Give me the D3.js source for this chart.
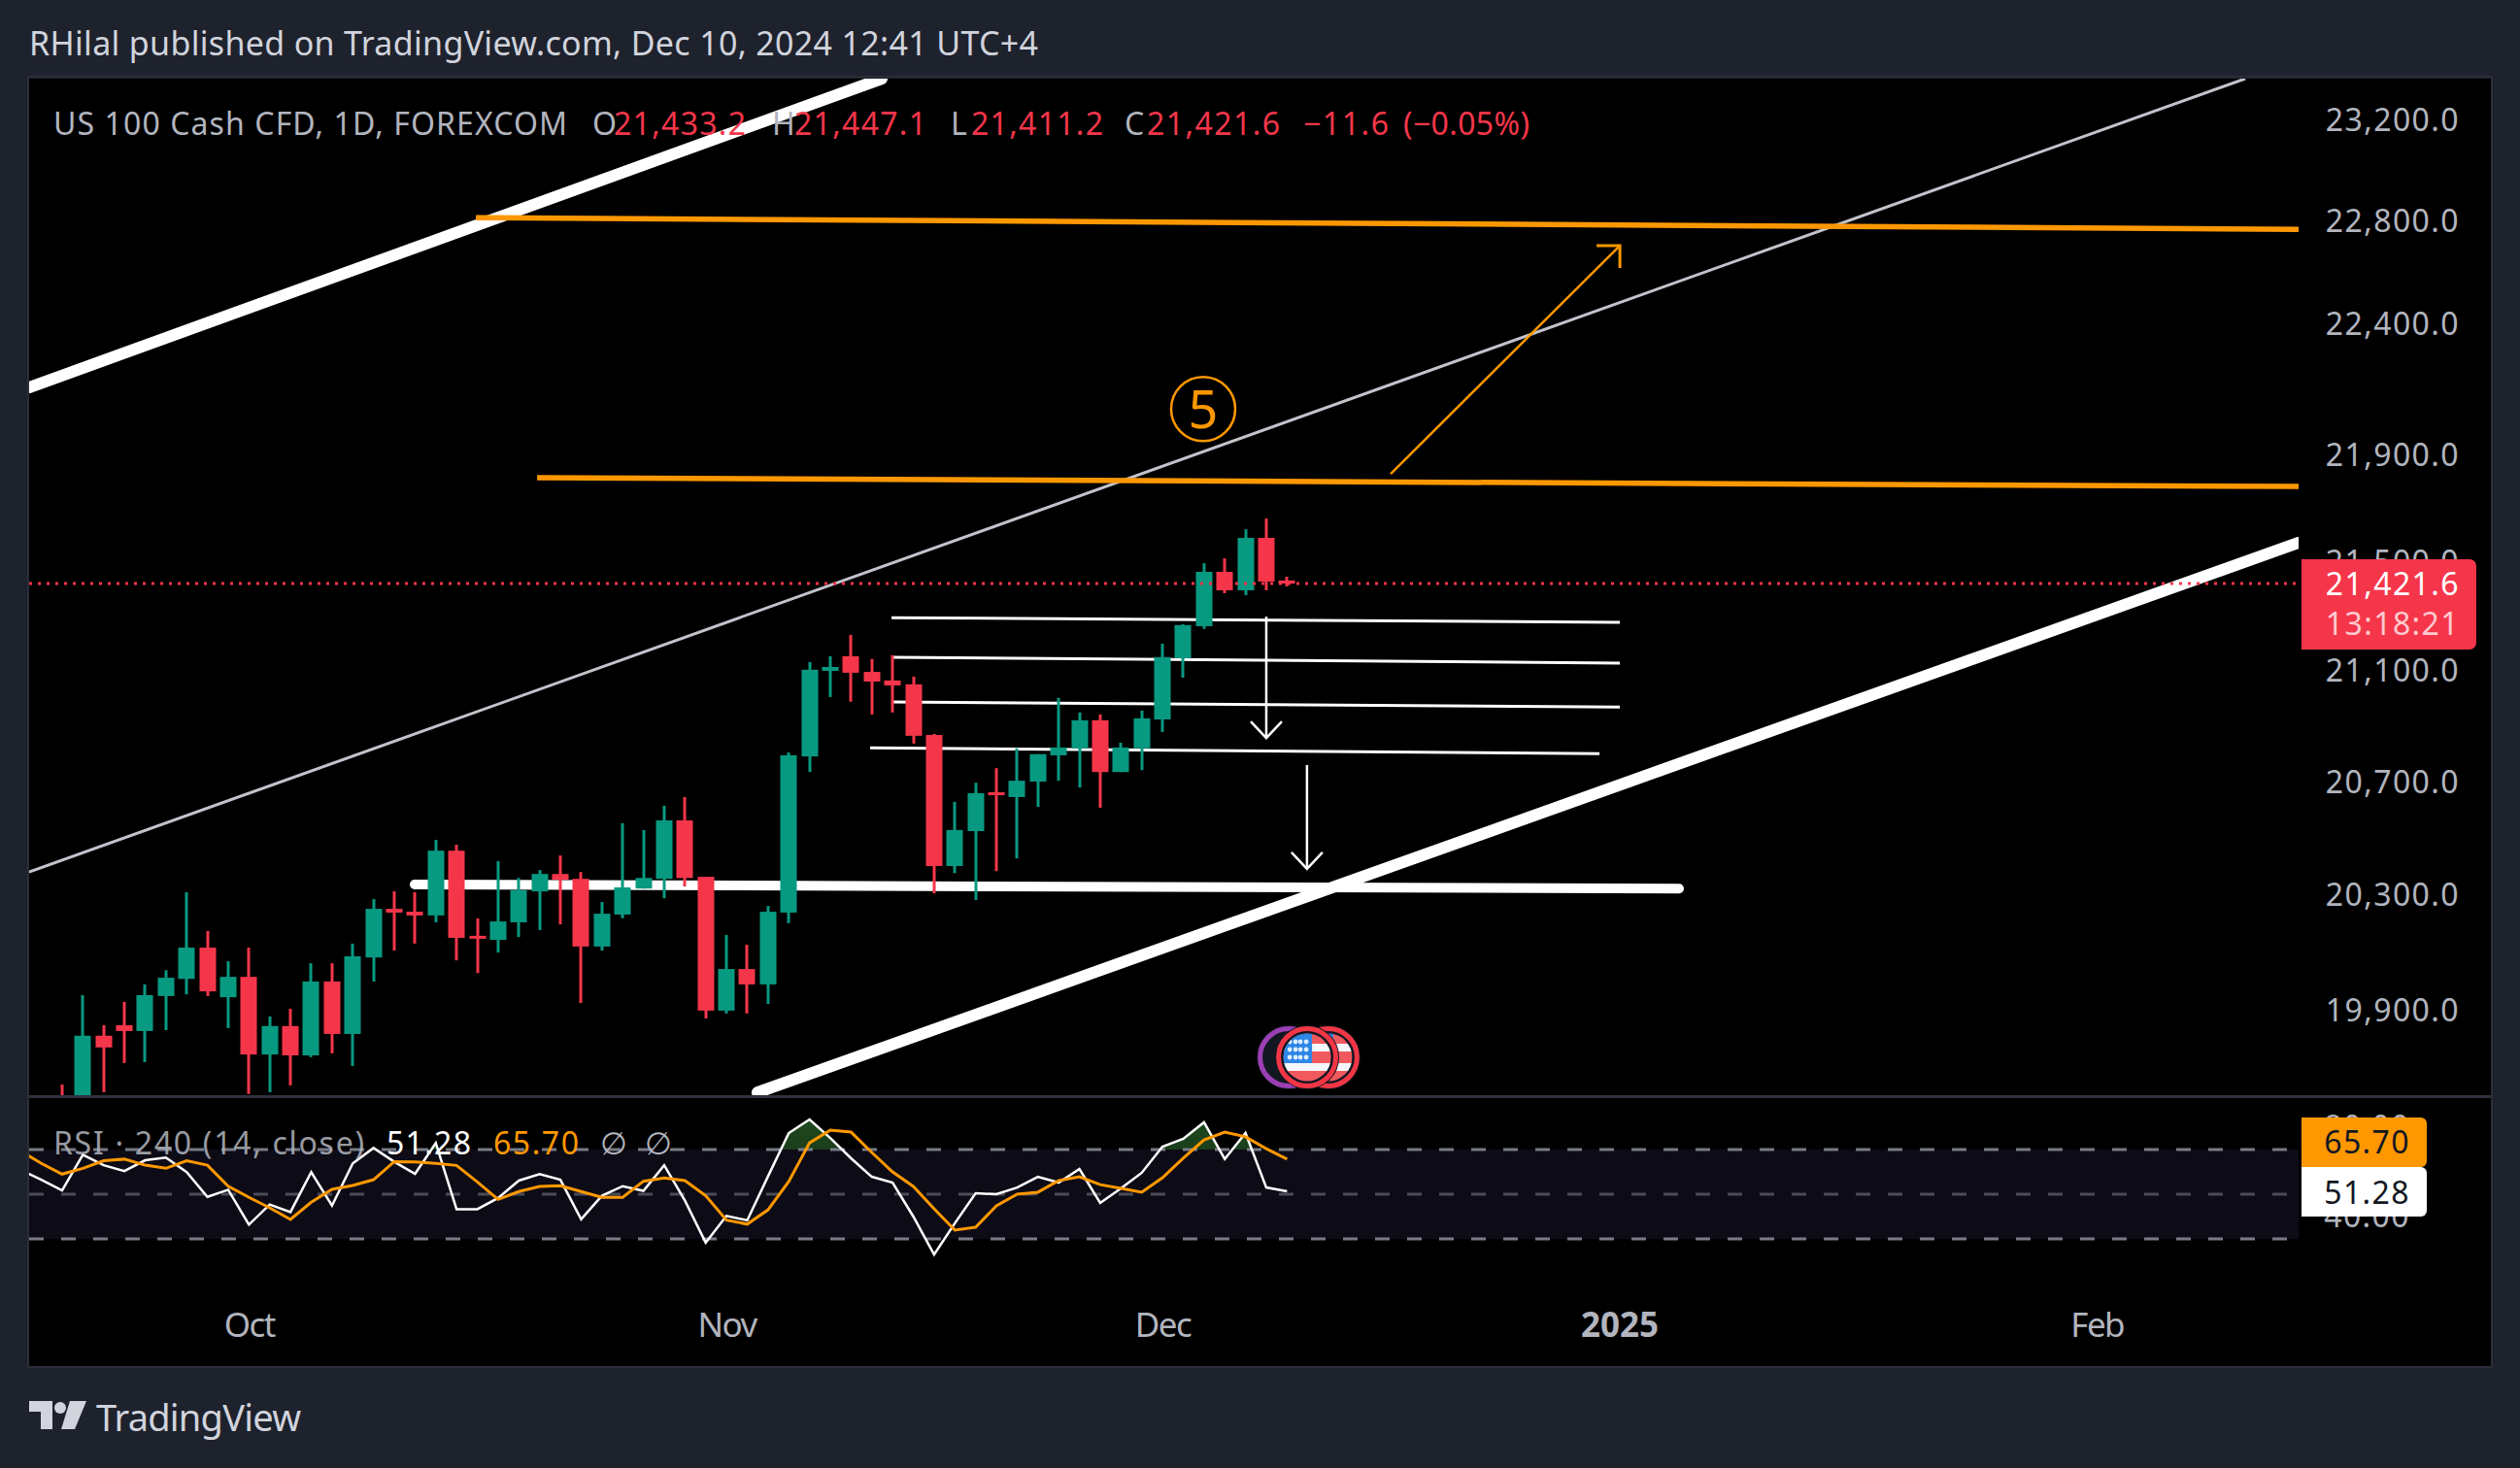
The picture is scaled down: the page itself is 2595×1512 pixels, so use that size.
<!DOCTYPE html>
<html>
<head>
<meta charset="utf-8">
<script src="https://cdn.jsdelivr.net/npm/d3@7"></script>
<style>
  html, body { margin: 0; padding: 0; background: #1e222d; overflow: hidden; }
  svg { display: block; }
  text { font-family: "Noto Sans", sans-serif; }
  .axis path, .axis line { display: none; }
</style>
</head>
<body>
<div id="chart"></div>
<script>
// daily candles, index 0 is the first bar on the left
const opens  = [19600,19540,19816,19852,19832,19952,20011,20119,19948,20018,19752,19849,19749,20002,19822,20085,20254,20244,20231,20458,20160,20146,20207,20315,20376,20359,20123,20234,20325,20359,20565,20366,19902,20045,19992,20241,20793,21102,21155,21098,21067,21053,20870,20404,20527,20665,20648,20703,20797,20822,20923,20737,20822,20926,21148,21265,21465,21397,21591,21433.2];
const highs  = [19650,19955,19852,19932,19992,20041,20312,20177,20072,20119,19882,19908,20065,20065,20133,20288,20315,20312,20496,20479,20221,20421,20362,20390,20441,20383,20278,20555,20531,20617,20648,20366,20163,20129,20264,20807,21134,21155,21233,21145,21159,21081,20874,20631,20699,20751,20822,20801,21004,20951,20944,20842,20958,21201,21272,21497,21515,21623,21663,21447.1];
const lows   = [19450,19450,19624,19723,19726,19835,19958,19952,19842,19618,19624,19647,19743,19756,19713,20002,20109,20133,20207,20075,20031,20102,20156,20180,20200,19928,20109,20221,20325,20291,20332,19875,19892,19892,19925,20204,20737,21007,20990,20944,20951,20839,20308,20379,20285,20386,20431,20613,20706,20682,20610,20737,20744,20881,21077,21255,21386,21379,21397,21411.2];
const closes = [19500,19816,19776,19832,19955,20015,20119,19968,20018,19752,19849,19749,20002,19822,20089,20254,20241,20231,20458,20153,20150,20210,20319,20376,20356,20123,20237,20329,20362,20565,20362,19902,20045,19992,20244,20797,21106,21116,21095,21063,21049,20867,20404,20531,20662,20655,20706,20801,20825,20923,20737,20825,20930,21152,21269,21465,21397,21591,21429,21421.6];

// RSI pane, first value sits at bar index -2
const rsiFirstBar = -2;
const rsiValues = [60.9,56.5,51.7,67.7,63.0,60.4,65.2,66.4,59.9,48.8,52.0,36.4,45.4,42.0,59.9,44.9,63.8,70.7,64.5,59.1,72.9,43.3,43.3,48.3,56.1,59.0,56.5,38.8,49.3,53.6,51.5,63.0,47.1,28.3,40.3,38.3,58.0,77.4,83.5,75.2,66.1,57.8,55.2,40.0,23.0,37.0,50.4,50.0,53.0,57.8,55.2,61.3,46.1,52.6,59.6,71.3,74.8,82.2,65.7,77.4,53.0,51.28];
const rsiSma = [69.3,63.8,59.0,61.6,65.0,65.7,63.0,61.6,65.0,63.0,53.6,48.6,43.9,38.7,46.4,52.2,53.9,56.5,64.6,64.5,63.8,62.9,55.5,47.7,51.2,53.5,53.8,51.2,48.6,48.6,55.8,57.3,56.1,49.3,38.4,36.6,43.0,55.7,73.0,78.7,77.8,68.7,60.0,53.5,43.5,33.9,35.2,44.8,50.0,50.9,56.1,57.8,54.3,52.6,50.9,57.4,66.1,74.3,77.8,75.7,70.4,65.70];

const priceTicks = [23200,22800,22400,21900,21500,21100,20700,20300,19900];
const rsiTicks = [80,40];
const rsiLevels = [70,50,30];
const timeTickBars = [9,32,53,75,98];
const timeTickLabels = ["Oct","Nov","Dec","2025","Feb"];

// drawings, as [bar index, price]
const upperChannel = [[-1.587,22158],[39.48,23369]];
const midChannel = [[-1.587,20383],[105.15,23369]];
const lowerChannel = [[33.49,19623],[107.72,21573]];
const supportLine = [[16.98,20339],[77.88,20325]];
const orangeTop = [[19.93,22816],[107.72,22770]];
const orangeMid = [[22.88,21816],[107.72,21783]];
const fibLines = [
  [[39.95,21296],[75.03,21279]],
  [[40.0,21151],[75.03,21130]],
  [[39.95,20989],[75.03,20971]],
  [[38.92,20824],[74.05,20803]]
];
const orangeArrow = [[63.99,21830],[75.03,22706]];
const whiteArrows = [
  [[58.0,21300],[58.0,20859]],
  [[59.96,20762],[59.96,20394]]
];
const waveLabel = {bar: 54.96, price: 22076, text: "5"};
const eventBars = [59.08,60.99,59.97];
const eventColors = ["#9c3fb5","#f23645","#f23645"];

const lastPrice = closes[closes.length - 1];
const lastRsi = rsiValues[rsiValues.length - 1];
const lastSma = rsiSma[rsiSma.length - 1];

const bg = "#1e222d", border = "#2a2e39", axisText = "#b2b5be";
const up = "#089981", down = "#f5364a", orange = "#ff9800";
const W = 2595, H = 1512;
const pane = {left: 30, right: 2367, outer: 2565, top: 81, mid: 1128, bottom: 1407};

const svg = d3.select("#chart").append("svg").attr("width", W).attr("height", H);
svg.append("rect").attr("width", W).attr("height", H).attr("fill", bg);
svg.append("rect").attr("x", pane.left).attr("y", pane.top)
  .attr("width", pane.outer - pane.left).attr("height", pane.bottom - pane.top).attr("fill", "#000");
svg.append("rect").attr("x", pane.left - 1).attr("y", pane.top - 2)
  .attr("width", pane.outer - pane.left + 2).attr("height", pane.bottom - pane.top + 3)
  .attr("fill", "none").attr("stroke", border).attr("stroke-width", 2);
svg.append("rect").attr("x", pane.left).attr("y", pane.mid)
  .attr("width", pane.outer - pane.left).attr("height", 3).attr("fill", "#2e323e");

const x = d3.scaleLinear().domain([-1.587, 107.72]).range([pane.left, pane.right]);
const y = d3.scaleLog().domain([19614, 23369]).range([pane.mid, pane.top]);
const yRsi = d3.scaleLinear().domain([30, 70]).range([1276, 1184]);

const defs = svg.append("defs");
defs.append("clipPath").attr("id", "mainClip").append("rect")
  .attr("x", pane.left).attr("y", pane.top)
  .attr("width", pane.right - pane.left).attr("height", pane.mid - pane.top);
defs.append("clipPath").attr("id", "rsiClip").append("rect")
  .attr("x", pane.left).attr("y", pane.mid + 3)
  .attr("width", pane.right - pane.left).attr("height", pane.bottom - pane.mid - 3);
defs.append("clipPath").attr("id", "aboveBand").append("rect")
  .attr("x", pane.left).attr("y", pane.mid + 3)
  .attr("width", pane.right - pane.left).attr("height", yRsi(70) - pane.mid - 3);
defs.append("clipPath").attr("id", "belowBand").append("rect")
  .attr("x", pane.left).attr("y", yRsi(30))
  .attr("width", pane.right - pane.left).attr("height", pane.bottom - yRsi(30));
const gradHigh = defs.append("linearGradient").attr("id", "gradHigh").attr("x1", 0).attr("x2", 0).attr("y1", 0).attr("y2", 1);
gradHigh.append("stop").attr("offset", "0%").attr("stop-color", "#1f4a1f");
gradHigh.append("stop").attr("offset", "100%").attr("stop-color", "#0b130b");
const gradLow = defs.append("linearGradient").attr("id", "gradLow").attr("x1", 0).attr("x2", 0).attr("y1", 0).attr("y2", 1);
gradLow.append("stop").attr("offset", "0%").attr("stop-color", "#1c0c08");
gradLow.append("stop").attr("offset", "100%").attr("stop-color", "#000");

const main = svg.append("g").attr("clip-path", "url(#mainClip)");
const seg = d3.line().x(d => x(d[0])).y(d => y(d[1]));

function drawLine(pts, color, width, cap) {
  main.append("path").attr("d", seg(pts)).attr("fill", "none")
    .attr("stroke", color).attr("stroke-width", width).attr("stroke-linecap", cap || "butt");
}

drawLine(upperChannel, "#fff", 12, "round");
drawLine(lowerChannel, "#fff", 12, "round");
drawLine(midChannel, "#c2c4cc", 3);
drawLine(supportLine, "#fff", 10, "round");
drawLine(orangeTop, orange, 5.5);
drawLine(orangeMid, orange, 5.5);
fibLines.forEach(f => drawLine(f, "#fff", 3));

// arrows: shaft plus two arms from the tip
const arrowG = main.append("g");
whiteArrows.forEach(a => {
  arrowG.append("path").attr("d", seg(a)).attr("stroke", "#fff").attr("stroke-width", 2.5).attr("fill", "none");
  const tx = x(a[1][0]), ty = y(a[1][1]);
  arrowG.append("path").attr("d", d3.line()([[tx - 16, ty - 17], [tx, ty], [tx + 16, ty - 17]]))
    .attr("stroke", "#fff").attr("stroke-width", 2.5).attr("fill", "none");
});
arrowG.append("path").attr("d", seg(orangeArrow)).attr("stroke", orange).attr("stroke-width", 2.5).attr("fill", "none");
{
  const tx = x(orangeArrow[1][0]), ty = y(orangeArrow[1][1]);
  arrowG.append("path").attr("d", d3.line()([[tx - 24, ty], [tx, ty], [tx, ty + 23]]))
    .attr("stroke", orange).attr("stroke-width", 3).attr("fill", "none");
}

// circled wave count
main.append("circle").attr("cx", x(waveLabel.bar)).attr("cy", y(waveLabel.price)).attr("r", 33)
  .attr("fill", "none").attr("stroke", orange).attr("stroke-width", 2.5);
main.append("text").attr("x", x(waveLabel.bar)).attr("y", y(waveLabel.price))
  .attr("dy", "0.36em").attr("text-anchor", "middle").attr("font-size", 54).attr("fill", orange).text(waveLabel.text);

// candles
const bars = opens.map((o, i) => ({i, o, h: highs[i], l: lows[i], c: closes[i]}));
const candle = main.append("g").selectAll("g").data(bars).join("g")
  .attr("fill", d => d.c < d.o ? down : up);
candle.append("rect").attr("x", d => Math.round(x(d.i)) - 1.5).attr("width", 3)
  .attr("y", d => y(d.h)).attr("height", d => y(d.l) - y(d.h));
candle.append("rect").attr("x", d => Math.round(x(d.i)) - 8.5).attr("width", 17)
  .attr("y", d => y(Math.max(d.o, d.c))).attr("height", d => Math.max(3, Math.abs(y(d.o) - y(d.c))));

// last price line
svg.append("line").attr("x1", pane.left).attr("x2", pane.right)
  .attr("y1", y(lastPrice)).attr("y2", y(lastPrice))
  .attr("stroke", down).attr("stroke-width", 3).attr("stroke-dasharray", "3 6");

// event badges
const events = svg.append("g").selectAll("g").data(eventBars).join("g")
  .attr("transform", d => `translate(${x(d)},1089)`);
events.append("circle").attr("r", 33).attr("fill", "#131722");
events.append("circle").attr("r", 29.5).attr("fill", "#131722")
  .attr("stroke", (d, i) => eventColors[i]).attr("stroke-width", 5);
defs.append("clipPath").attr("id", "flagClip").append("circle").attr("r", 24.5);
events.filter((d, i) => i > 0).each(function () {
  const f = d3.select(this).append("g").attr("clip-path", "url(#flagClip)");
  [[-25, 11, "#f05a5f"], [-14, 8, "#f5f7fb"], [-6, 12, "#f05a5f"], [6, 8, "#f5f7fb"], [14, 11, "#f05a5f"]]
    .forEach(s => f.append("rect").attr("x", -25).attr("y", s[0]).attr("width", 50).attr("height", s[1]).attr("fill", s[2]));
  f.append("rect").attr("x", -25).attr("y", -25).attr("width", 30).attr("height", 31).attr("fill", "#2e86e6");
  d3.cross([-18, -7], [-16, -8, 0]).forEach(p => f.append("circle")
    .attr("cx", p[0]).attr("cy", p[1]).attr("r", 2.4).attr("fill", "#dbeeff"));
  d3.cross([-12, -1], [-16, -8, 0]).forEach(p => f.append("circle")
    .attr("cx", p[0]).attr("cy", p[1]).attr("r", 2.4).attr("fill", "#dbeeff"));
});

// RSI pane
svg.append("rect").attr("x", pane.left).attr("width", pane.right - pane.left)
  .attr("y", yRsi(70)).attr("height", yRsi(30) - yRsi(70)).attr("fill", "#0d0b16");
const rsi = svg.append("g").attr("clip-path", "url(#rsiClip)");
const rsiBar = i => i + rsiFirstBar;
const rsiArea = d3.area().x((d, i) => x(rsiBar(i)));
rsi.append("g").attr("clip-path", "url(#aboveBand)").append("path")
  .attr("d", rsiArea.y0(yRsi(70)).y1(d => yRsi(d))(rsiValues)).attr("fill", "url(#gradHigh)");
rsi.append("g").attr("clip-path", "url(#belowBand)").append("path")
  .attr("d", rsiArea.y0(yRsi(30)).y1(d => yRsi(d))(rsiValues)).attr("fill", "url(#gradLow)");
rsi.selectAll(".level").data(rsiLevels).join("line").attr("class", "level")
  .attr("x1", pane.left).attr("x2", pane.right).attr("y1", d => yRsi(d)).attr("y2", d => yRsi(d))
  .attr("stroke", d => d === 50 ? "#4a4c57" : "#787b86").attr("stroke-width", 3)
  .attr("stroke-dasharray", "15 18");
const rsiLine = d3.line().x((d, i) => x(rsiBar(i))).y(d => yRsi(d));
rsi.append("path").attr("d", rsiLine(rsiValues)).attr("fill", "none").attr("stroke", "#fff").attr("stroke-width", 2.5);
rsi.append("path").attr("d", rsiLine(rsiSma)).attr("fill", "none").attr("stroke", orange).attr("stroke-width", 3);

// axes
const priceAxis = svg.append("g").attr("class", "axis").attr("transform", "translate(2533,0)")
  .call(d3.axisRight(y).tickValues(priceTicks).tickFormat(d3.format(",.1f")).tickSize(0).tickPadding(0));
priceAxis.selectAll("text").attr("text-anchor", "end").attr("font-size", 32).attr("fill", axisText).style("letter-spacing", "1.4px");
const rsiAxis = svg.append("g").attr("class", "axis").attr("transform", "translate(2482,0)")
  .call(d3.axisRight(yRsi).tickValues(rsiTicks).tickFormat(d3.format(".2f")).tickSize(0).tickPadding(0));
rsiAxis.selectAll("text").attr("text-anchor", "end").attr("font-size", 32).attr("fill", axisText).style("letter-spacing", "1.4px");
const timeAxis = svg.append("g").attr("class", "axis").attr("transform", "translate(0,1352)")
  .call(d3.axisBottom(x).tickValues(timeTickBars).tickFormat((d, i) => timeTickLabels[i]).tickSize(0).tickPadding(0));
timeAxis.selectAll("text").attr("font-size", 35).attr("fill", axisText)
  .attr("font-weight", (d, i) => timeTickLabels[i] === "2025" ? 700 : 400)
  .style("letter-spacing", (d, i) => timeTickLabels[i] === "2025" ? "0" : "-1.5px");

// text helper, width is what the label spans on the picture
function label(txt, px, py, color, size, width, anchor) {
  const t = svg.append("text").attr("x", px).attr("y", py).attr("dy", "0.36em")
    .attr("fill", color).attr("font-size", size).attr("text-anchor", anchor || "start").text(txt);
  if (width) t.attr("textLength", width).attr("lengthAdjust", "spacing");
  return t;
}

label("RHilal published on TradingView.com, Dec 10, 2024 12:41 UTC+4", 30, 45, "#d1d4dc", 34, 1039);

// legend
const legendY = 127;
label("US 100 Cash CFD, 1D, FOREXCOM", 55, legendY, axisText, 32, 529);
[["O", 610, axisText, 0], ["21,433.2", 632, down, 136], ["H", 795, axisText, 0], ["21,447.1", 818, down, 136],
 ["L", 979, axisText, 0], ["21,411.2", 1000, down, 136], ["C", 1158, axisText, 0], ["21,421.6", 1181, down, 137],
 ["\u221211.6", 1342, down, 88], ["(\u22120.05%)", 1445, down, 130]]
  .forEach(d => label(d[0], d[1], legendY, d[2], 32, d[3]));

const rsiLegendY = 1177;
label("RSI \u00b7 240 (14, close)", 55, rsiLegendY, axisText, 32, 320).attr("opacity", 0.85);
label(d3.format(".2f")(lastRsi), 398, rsiLegendY, "#fff", 32, 87);
label(d3.format(".2f")(lastSma), 508, rsiLegendY, orange, 32, 88);
label("\u2205", 618, rsiLegendY, axisText, 32);
label("\u2205", 664, rsiLegendY, axisText, 32);

// right side tags
function tag(x0, y0, w, h, fill, r) {
  const path = d3.path();
  path.moveTo(x0, y0);
  path.lineTo(x0 + w - r, y0);
  path.arcTo(x0 + w, y0, x0 + w, y0 + r, r);
  path.lineTo(x0 + w, y0 + h - r);
  path.arcTo(x0 + w, y0 + h, x0 + w - r, y0 + h, r);
  path.lineTo(x0, y0 + h);
  path.closePath();
  svg.append("path").attr("d", path.toString()).attr("fill", fill);
}
tag(2370, 576, 180, 93, down, 7);
label(d3.format(",.1f")(lastPrice), 2533, y(lastPrice), "#fff", 32, 0, "end").style("letter-spacing", "1.4px");
label("13:18:21", 2533, 642, "#ffc9cf", 32, 0, "end").style("letter-spacing", "1.4px");
tag(2370, 1151, 129, 51, orange, 6);
tag(2370, 1202, 129, 51, "#fff", 6);
label(d3.format(".2f")(lastSma), 2482, yRsi(lastSma) - 17, "#131722", 32, 0, "end").style("letter-spacing", "1.4px");
label(d3.format(".2f")(lastRsi), 2482, yRsi(lastRsi) + 1, "#131722", 32, 0, "end").style("letter-spacing", "1.4px");

// footer logo
const logo = svg.append("g").attr("transform", "translate(30,1443)").attr("fill", "#d1d4dc");
logo.append("path").attr("d", "M0 0H24V29H12V11H0Z");
logo.append("circle").attr("cx", 32).attr("cy", 7).attr("r", 6);
logo.append("path").attr("d", "M42 0H59L47 29H33Z");
label("TradingView", 99, 1460, "#d1d4dc", 38, 211);
</script>
</body>
</html>
